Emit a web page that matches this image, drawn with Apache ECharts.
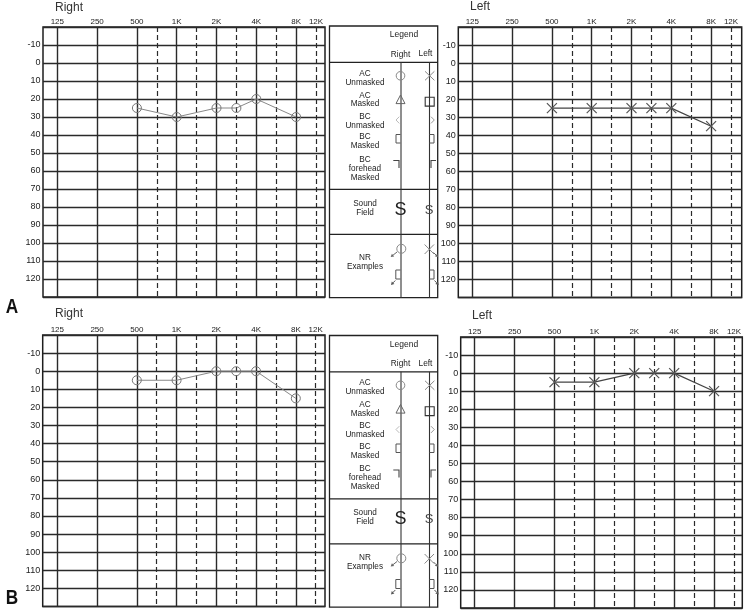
<!DOCTYPE html>
<html><head><meta charset="utf-8">
<script src="https://cdn.jsdelivr.net/npm/echarts@6/dist/echarts.min.js"></script>
<style>html,body{margin:0;padding:0;background:#fff}#c{width:747px;height:613px}</style>
</head><body><div id="c"></div>
<script>
// ---------- data ----------
const freqCats = ['125','177','250','354','500','750','1K','1.5K','2K','3K','4K','6K','8K','12K'];
const labelIdx = [0,2,4,6,8,10,12,13];      // categories that carry a tick label
const solidIdx = [0,2,4,6,8,10,12];         // octave grid lines (solid)
const dashedIdx = [5,7,9,11,13];            // inter-octave grid lines (dashed)
const testFreqs = ['500','1K','2K','3K','4K','8K'];
const rightA = [25,30,25,25,20,30];
const leftA  = [25,25,25,25,25,35];
const rightB = [5,5,0,0,0,15];
const leftB  = [5,5,0,0,0,10];
const dbMin = -20, dbMax = 130, dbStep = 10;
const panelTitles = ['Right','Left','Right','Left'];
const panelLetters = ['A','B'];
const legendTitle = 'Legend';
const legendCols = ['Right','Left'];
const legendLabels = ['AC\nUnmasked','AC\nMasked','BC\nUnmasked','BC\nMasked','BC\nforehead\nMasked','Sound\nField','NR\nExamples'];

// ---------- layout ----------
const FONT = '"Liberation Sans", Arial, sans-serif';
const GRIDC = '#2a2a2a';
const panels = [
  {tx:55,  ty:7.5, boxL:43,    boxR:325,   top:27,  bottom:297,   x0:57.3,  x1:316,   data:rightA, ear:'R'},
  {tx:470, ty:6.5, boxL:458.3, boxR:741.7, top:27,  bottom:297.5, x0:472.3, x1:731,   data:leftA,  ear:'L'},
  {tx:55,  ty:314, boxL:42.7,  boxR:325,   top:335, bottom:606.5, x0:57.3,  x1:315.7, data:rightB, ear:'R'},
  {tx:472, ty:316, boxL:460.7, boxR:742.3, top:337, bottom:608,   x0:474.7, x1:734,   data:leftB,  ear:'L'}
];

const grid = [], xAxis = [], yAxis = [], series = [], graphic = [];

panels.forEach((p, i) => {
  const h = p.bottom - p.top;
  grid.push({left:p.boxL, top:p.top, width:p.boxR - p.boxL, height:h, show:true,
    backgroundColor:'#fff', borderColor:'#1e1e1e', borderWidth:1.5, containLabel:false, outerBoundsMode:'none'});
  grid.push({left:p.x0, top:p.top, width:p.x1 - p.x0, height:h, show:false, containLabel:false, outerBoundsMode:'none'});
  const go = 2*i, gi = 2*i+1;
  xAxis.push({type:'value', gridIndex:go, min:0, max:1, show:false});
  xAxis.push({type:'category', gridIndex:gi, data:freqCats, boundaryGap:false, position:'top',
    axisLine:{show:false}, axisTick:{show:false},
    axisLabel:{show:true, interval:(idx)=>labelIdx.indexOf(idx) >= 0, margin:1.5,
      fontSize:8, fontFamily:FONT, color:'#222'},
    splitLine:{show:true, interval:(idx)=>solidIdx.indexOf(idx) >= 0,
      lineStyle:{color:GRIDC, width:1.4, type:'solid'}}});
  xAxis.push({type:'category', gridIndex:gi, data:freqCats, boundaryGap:false, position:'top',
    axisLine:{show:false}, axisTick:{show:false}, axisLabel:{show:false},
    splitLine:{show:true, interval:(idx)=>dashedIdx.indexOf(idx) >= 0,
      lineStyle:{color:GRIDC, width:1.2, type:[5,3]}}});
  yAxis.push({type:'value', gridIndex:go, inverse:true, min:dbMin, max:dbMax, interval:dbStep,
    axisLine:{show:false}, axisTick:{show:false},
    axisLabel:{margin:2.5, fontSize:9, fontFamily:FONT, color:'#222',
      formatter:(v)=> (v === dbMin || v === dbMax) ? '' : String(v)},
    splitLine:{show:true, lineStyle:{color:GRIDC, width:1.4}}});
  yAxis.push({type:'value', gridIndex:gi, inverse:true, min:dbMin, max:dbMax, interval:dbStep, show:false});

  const isR = p.ear === 'R';
  series.push({
    type:'line', xAxisIndex:3*i+1, yAxisIndex:gi, silent:true, animation:false,
    data: testFreqs.map((f,k)=>[freqCats.indexOf(f), p.data[k]]),
    symbol: isR ? 'circle' : 'path://M0,0L10,10M10,0L0,10',
    symbolSize: isR ? 9 : 10,
    lineStyle:{color: isR ? '#888' : '#444', width: isR ? 1 : 1.2},
    itemStyle:{color:'transparent', borderColor: isR ? '#777' : '#555', borderWidth: isR ? 1 : 1.2},
    z:5
  });

  graphic.push({type:'text', x:p.tx, y:p.ty, silent:true,
    style:{text:panelTitles[i], fontSize:12, fontFamily:FONT, fill:'#333', align:'left', verticalAlign:'middle'}});
});

// panel letters
[[307.5,0],[598,1]].forEach(([y,k])=>graphic.push({type:'text', x:12, y, scaleX:0.82, silent:true,
  style:{text:panelLetters[k], fontSize:21, fontWeight:'bold', fontFamily:FONT, fill:'#111', align:'center', verticalAlign:'middle'}}));

// ---------- legend panel ----------
function arrow(x1,y1,x2,y2,color){
  const dx=x2-x1, dy=y2-y1, L=Math.hypot(dx,dy), ux=dx/L, uy=dy/L;
  const hl=3, hw=1.8;
  const bx=x2-ux*hl, by=y2-uy*hl;
  return [
    {type:'line', silent:true, shape:{x1,y1,x2:bx,y2:by}, style:{stroke:color, lineWidth:1}},
    {type:'polygon', silent:true, shape:{points:[[x2,y2],[bx-uy*hw,by+ux*hw],[bx+uy*hw,by-ux*hw]]}, style:{fill:color}}
  ];
}
function legend(dy, nrTextY){
  const g = [];
  const L=329.5, R=437.7, T=26+dy, B=297.7+dy;
  const s1=62.3+dy, s2=189.3+dy, s3=234.3+dy;
  const cR=401, cL=429.5;
  const ln=(x1,y1,x2,y2,w,c)=>({type:'line', silent:true, shape:{x1,y1,x2,y2}, style:{stroke:c||'#222', lineWidth:w||1.2}});
  g.push({type:'rect', silent:true, shape:{x:L, y:T, width:R-L, height:B-T}, style:{fill:'#fff', stroke:'#222', lineWidth:1.3}});
  g.push(ln(L,s1,R,s1)); g.push(ln(L,s2,R,s2)); g.push(ln(L,s3,R,s3));
  g.push(ln(cR,s1,cR,B,1.1,'#333')); g.push(ln(cL,s1,cL,B,1.1,'#333'));
  const txt=(t,x,y,size,extra)=>Object.assign({type:'text', x, y, silent:true,
    style:Object.assign({text:t, fontSize:size||8.2, fontFamily:FONT, fill:'#222', align:'center', verticalAlign:'middle', lineHeight:8.8}, extra||{})});
  g.push(txt(legendTitle, 404, 35+dy, 8.5));
  g.push(txt(legendCols[0], 400.5, 54.3+dy, 8.3));
  g.push(txt(legendCols[1], 425.5, 54.2+dy, 8.3));
  const ys=[78, 99.8, 121, 141.5, 168.5, 208, nrTextY];
  legendLabels.forEach((t,k)=>g.push(txt(t, 365, ys[k]+dy)));
  // AC unmasked
  g.push({type:'circle', silent:true, shape:{cx:400.5, cy:75.8+dy, r:4.3}, style:{fill:'none', stroke:'#888', lineWidth:1}});
  g.push({type:'polyline', silent:true, shape:{points:[[425,71.3+dy],[434.4,80.3+dy]]}, style:{stroke:'#888', lineWidth:1}});
  g.push({type:'polyline', silent:true, shape:{points:[[434.4,71.3+dy],[425,80.3+dy]]}, style:{stroke:'#888', lineWidth:1}});
  // AC masked
  g.push({type:'polygon', silent:true, shape:{points:[[400.5,95+dy],[405,103.6+dy],[396,103.6+dy]]}, style:{fill:'none', stroke:'#666', lineWidth:1}});
  g.push({type:'rect', silent:true, shape:{x:425.2, y:97.3+dy, width:9, height:8.8}, style:{fill:'none', stroke:'#333', lineWidth:1.1}});
  // BC unmasked
  g.push({type:'polyline', silent:true, shape:{points:[[399.3,116.7+dy],[396,120+dy],[399.3,123.4+dy]]}, style:{fill:'none', stroke:'#bbb', lineWidth:1}});
  g.push({type:'polyline', silent:true, shape:{points:[[431,116.7+dy],[434.3,120+dy],[431,123.4+dy]]}, style:{fill:'none', stroke:'#999', lineWidth:1}});
  // BC masked
  g.push({type:'polyline', silent:true, shape:{points:[[400.5,134.5+dy],[396,134.5+dy],[396,143+dy],[400.5,143+dy]]}, style:{fill:'none', stroke:'#555', lineWidth:1}});
  g.push({type:'polyline', silent:true, shape:{points:[[429.5,134.5+dy],[434,134.5+dy],[434,143+dy],[429.5,143+dy]]}, style:{fill:'none', stroke:'#555', lineWidth:1}});
  // BC forehead masked
  g.push({type:'polyline', silent:true, shape:{points:[[393.3,160.5+dy],[399,160.5+dy],[399,168+dy]]}, style:{fill:'none', stroke:'#444', lineWidth:1.1}});
  g.push({type:'polyline', silent:true, shape:{points:[[436,160.5+dy],[431,160.5+dy],[431,168+dy]]}, style:{fill:'none', stroke:'#444', lineWidth:1.1}});
  // Sound field
  g.push(txt('S', 400.5, 209.8+dy, 18, {fill:'#222'}));
  g.push(txt('S', 429.2, 210.3+dy, 13, {fill:'#444'}));
  // NR examples
  g.push({type:'circle', silent:true, shape:{cx:401.3, cy:248.8+dy, r:4.5}, style:{fill:'none', stroke:'#888', lineWidth:1}});
  arrow(397,252+dy,390.7,257+dy,'#666').forEach(e=>g.push(e));
  g.push({type:'polyline', silent:true, shape:{points:[[424.6,244.5+dy],[434,254+dy]]}, style:{stroke:'#888', lineWidth:1}});
  g.push({type:'polyline', silent:true, shape:{points:[[434,244.5+dy],[424.6,254+dy]]}, style:{stroke:'#888', lineWidth:1}});
  arrow(433.5,252.5+dy,438.2,257.2+dy,'#666').forEach(e=>g.push(e));
  g.push({type:'polyline', silent:true, shape:{points:[[400.5,270+dy],[395.8,270+dy],[395.8,279+dy],[400.5,279+dy]]}, style:{fill:'none', stroke:'#555', lineWidth:1}});
  arrow(395.3,280.5+dy,391,285+dy,'#555').forEach(e=>g.push(e));
  g.push({type:'polyline', silent:true, shape:{points:[[429.5,270+dy],[434,270+dy],[434,279+dy],[429.5,279+dy]]}, style:{fill:'none', stroke:'#555', lineWidth:1}});
  arrow(434.5,280.5+dy,438.7,285+dy,'#555').forEach(e=>g.push(e));
  return g;
}
legend(0, 262).forEach(e=>graphic.push(e));
legend(309.5, 252.8).forEach(e=>graphic.push(e));

const chart = echarts.init(document.getElementById('c'), null, {renderer:'canvas'});
chart.setOption({
  animation:false,
  backgroundColor:'#fff',
  grid, xAxis, yAxis, series,
  graphic:{elements:graphic}
});
</script></body></html>
